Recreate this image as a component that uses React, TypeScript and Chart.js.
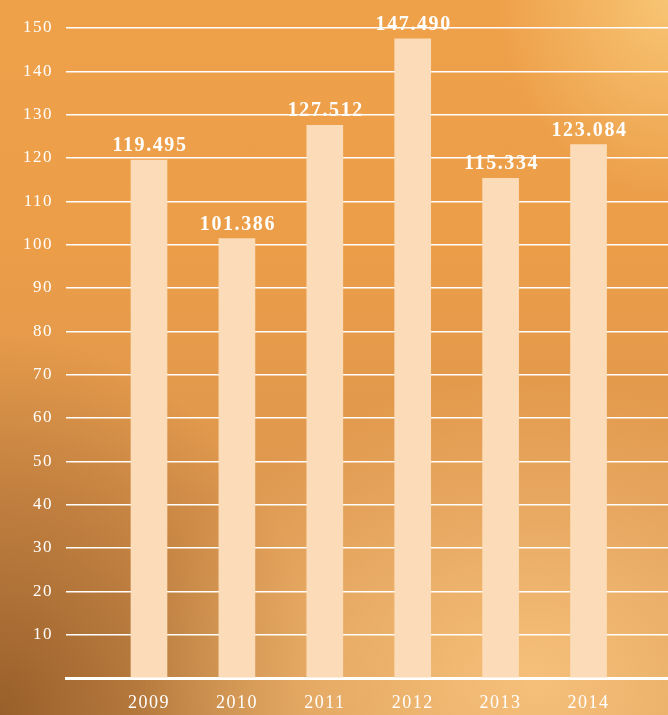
import React, { useEffect, useRef } from "react";
import { Chart, registerables } from "chart.js";

Chart.register(...registerables);

const years = ["2009", "2010", "2011", "2012", "2013", "2014"];
const values = [119.495, 101.386, 127.512, 147.49, 115.334, 123.084];
const yTicks = [10, 20, 30, 40, 50, 60, 70, 80, 90, 100, 110, 120, 130, 140, 150];

const FONT = "'Liberation Serif', 'DejaVu Serif', serif";

const valueLabels = {
  id: "valueLabels",
  afterDatasetsDraw(chart: any) {
    const ctx = chart.ctx;
    const meta = chart.getDatasetMeta(0);
    ctx.save();
    (ctx as any).letterSpacing = "1.6px";
    ctx.fillStyle = "#ffffff";
    ctx.font = `bold 20px ${FONT}`;
    ctx.textAlign = "center";
    ctx.textBaseline = "alphabetic";
    meta.data.forEach((el: any, i: number) => {
      ctx.fillText(values[i].toFixed(3), el.x + 1, el.y - 9);
    });
    ctx.restore();
  },
};

const spacing = {
  id: "spacing",
  beforeDraw(chart: any) {
    (chart.ctx as any).letterSpacing = "1.5px";
  },
};

export default function App() {
  const ref = useRef<HTMLCanvasElement | null>(null);
  useEffect(() => {
    if (!ref.current) return;
    const chart = new Chart(ref.current, {
      type: "bar",
      data: {
        datasets: [
          {
            data: values.map((v, i) => ({ x: i, y: v })),
            backgroundColor: "#fcdcb8",
            borderWidth: 0,
            barThickness: 36,
          },
        ],
      },
      plugins: [spacing, valueLabels],
      options: {
        animation: false,
        responsive: false,
        maintainAspectRatio: false,
        layout: { padding: { top: 28, right: 0, left: 0, bottom: 0 } },
        plugins: {
          legend: { display: false },
          tooltip: { enabled: false },
        },
        scales: {
          x: {
            type: "linear",
            offset: false,
            min: -0.944,
            max: 5.904,
            afterFit(scale: any) {
              scale.height = 37;
            },
            afterBuildTicks(scale: any) {
              scale.ticks = years.map((_, i) => ({ value: i }));
            },
            grid: { display: false, drawTicks: false, offset: false },
            border: { display: true, color: "#ffffff", width: 3 },
            ticks: {
              color: "#ffffff",
              padding: 14,
              font: { family: FONT, size: 18 },
              callback: (v: any) => years[Number(v)] ?? "",
            },
          },
          y: {
            min: 0,
            max: 150,
            afterFit(scale: any) {
              scale.width = 66;
            },
            afterBuildTicks(scale: any) {
              scale.ticks = [0, ...yTicks].map((v) => ({ value: v }));
            },
            grid: { color: "#ffffff", lineWidth: 1.6, drawTicks: false },
            border: { display: false },
            ticks: {
              color: "#ffffff",
              padding: 13,
              font: { family: FONT, size: 17 },
              callback: (v: any) => (Number(v) === 0 ? "" : String(v)),
            },
          },
        },
      },
    } as any);
    return () => chart.destroy();
  }, []);

  const bg = [
    "radial-gradient(ellipse 170px 200px at 100% 0%, rgba(248,200,120,0.9) 0%, rgba(248,200,120,0) 100%)",
    "radial-gradient(ellipse 400px 300px at 80% 95%, rgba(248,194,124,0.95) 0%, rgba(248,194,124,0) 100%)",
    "radial-gradient(ellipse 320px 380px at 0% 100%, rgba(150,92,40,0.95) 0%, rgba(150,92,40,0) 100%)",
    "linear-gradient(180deg, #efa14a 0%, #eb9d48 35%, #dd974f 70%, #d89a55 100%)",
  ].join(", ");

  return (
    <div
      style={{
        position: "fixed",
        left: 0,
        top: 0,
        width: 668,
        height: 715,
        background: bg,
      }}
    >
      <canvas ref={ref} width={668} height={715} style={{ width: 668, height: 715, display: "block" }} />
    </div>
  );
}
